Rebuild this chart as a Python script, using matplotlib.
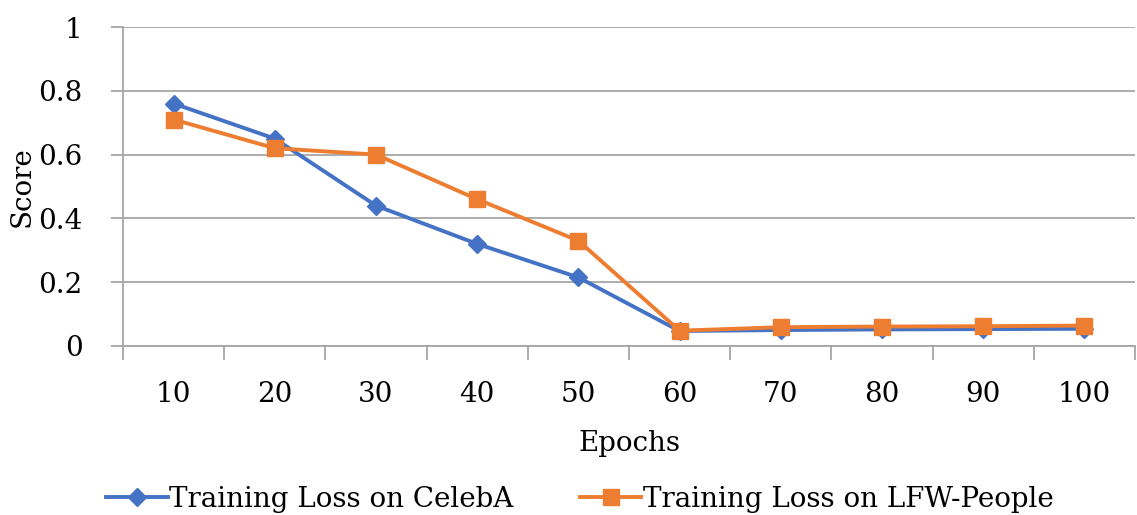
import matplotlib.pyplot as plt
import numpy as np

epochs = ['10', '20', '30', '40', '50', '60', '70', '80', '90', '100']
celeba_loss = [0.76, 0.65, 0.44, 0.32, 0.215, 0.047, 0.05, 0.052, 0.053, 0.054]
lfw_loss = [0.71, 0.62, 0.6, 0.46, 0.33, 0.048, 0.059, 0.061, 0.062, 0.064]
y_ticks = [0, 0.2, 0.4, 0.6, 0.8, 1]
y_tick_labels = ['0', '0.2', '0.4', '0.6', '0.8', '1']

plt.rcParams['font.family'] = ['DejaVu Serif']
grid_col = '#a6a6a6'
fs = 20

fig = plt.figure(figsize=(11.37, 5.15), dpi=100)
ax = fig.add_axes([123 / 1137, 1 - 346 / 515, 1012 / 1137, 319 / 515])

x = np.arange(len(epochs))
ax.plot(x, celeba_loss, color='#4472C4', lw=2.8, marker='D', ms=9,
        label='Training Loss on CelebA', zorder=3)
ax.plot(x, lfw_loss, color='#ED7D31', lw=2.8, marker='s', ms=11,
        label='Training Loss on LFW-People', zorder=3)

ax.set_xlim(-0.5, len(epochs) - 0.5)
ax.set_ylim(0, 1)
ax.set_xticks(x)
ax.set_xticklabels(epochs, fontsize=fs)
ax.set_xticks(np.arange(-0.5, len(epochs), 1), minor=True)
ax.tick_params(axis='x', which='major', length=0, pad=25)
ax.tick_params(axis='x', which='minor', length=10, width=1.3, color=grid_col, direction='out')
ax.set_yticks(y_ticks)
ax.set_yticklabels(y_tick_labels, fontsize=fs)
ax.tick_params(axis='y', length=9, width=1.3, color=grid_col, direction='out', pad=20)

ax.grid(axis='y', color=grid_col, lw=1.3)
ax.set_axisbelow(True)
for side in ['top', 'right']:
    ax.spines[side].set_visible(False)
for side in ['left', 'bottom']:
    ax.spines[side].set_color(grid_col)
    ax.spines[side].set_linewidth(1.3)

ax.set_xlabel('Epochs', fontsize=fs, labelpad=16)
ax.set_ylabel('Score', fontsize=fs, labelpad=2)

fig.legend(loc='lower center', bbox_to_anchor=(0.51, -0.045), ncol=2, frameon=False,
           fontsize=fs, handlelength=2.2, handletextpad=0.05, columnspacing=2.4)

fig.savefig('out.png', dpi=100)
